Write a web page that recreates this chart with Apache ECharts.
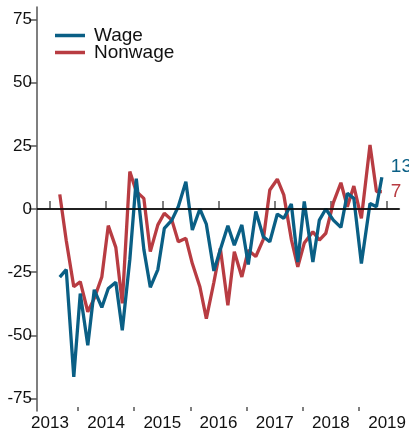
<!DOCTYPE html>
<html>
<head>
<meta charset="utf-8">
<script src="https://cdn.jsdelivr.net/npm/echarts@6/dist/echarts.min.js"></script>
<style>
html,body{margin:0;padding:0;background:#fff;}
#chart{width:409px;height:433px;}
</style>
</head>
<body>
<div id="chart"></div>
<script>
// Release dates (8 per year)
const dates = [
  '2013-03-06','2013-04-17','2013-06-05','2013-07-17','2013-09-04','2013-10-16','2013-12-04',
  '2014-01-15','2014-03-05','2014-04-16','2014-06-04','2014-07-16','2014-09-03','2014-10-15','2014-12-03',
  '2015-01-14','2015-03-04','2015-04-15','2015-06-03','2015-07-15','2015-09-02','2015-10-14','2015-12-02',
  '2016-01-13','2016-03-02','2016-04-13','2016-06-01','2016-07-13','2016-08-31','2016-10-19','2016-11-30',
  '2017-01-18','2017-03-01','2017-04-19','2017-05-31','2017-07-12','2017-09-06','2017-10-18','2017-11-29',
  '2018-01-17','2018-03-07','2018-04-18','2018-05-30','2018-07-18','2018-09-12','2018-10-24','2018-11-28'
];
const wage = [
  -27, -24, -66.5, -33.5, -54, -32, -39,
  -31.5, -29, -48, -20, 12, -16, -31, -24,
  -7.7, -4.4, 1, 10.8, -8.3, 0, -6, -24.5,
  -16, -6.6, -14.3, -6.3, -22, -1, -11, -13,
  -2, -3.7, 2, -21, 3, -21, -4.4, 0,
  -4.4, -7.3, 6.2, 4.2, -21.6, 2.2, 0.9, 12.6
];
const nonwage = [
  5.8, -12.5, -30.8, -28.8, -40.7, -35.4, -26.9,
  -6.6, -15.2, -37.4, 14.8, 6.9, 4.2, -16.9, -6.3,
  -1.7, -4.4, -13, -11.6, -21.6, -30.8, -43.4, -29,
  -15.6, -38.1, -16.9, -26.9, -16.3, -18.8, -12, 7.5,
  11.8, 5.6, -12, -22.9, -13.5, -9, -12.3, -9.6,
  2.5, 10.4, 0.9, 9.1, -3.7, 25.4, 6.9, 6.9
];
const yTicks = [-75, -50, -25, 0, 25, 50, 75];
const xYears = [2013, 2014, 2015, 2016, 2017, 2018, 2019];
const xHalfYears = [2013.5, 2014.5, 2015.5, 2016.5, 2017.5, 2018.5];
const seriesNames = ['Wage', 'Nonwage'];

const BLUE = '#0a5f85';
const RED = '#b83c42';
// date string -> decimal year
const decYear = d => {
  const p = d.split('-').map(Number);
  const start = Date.UTC(p[0], 0, 1), end = Date.UTC(p[0] + 1, 0, 1);
  return p[0] + (Date.UTC(p[0], p[1] - 1, p[2]) - start) / (end - start);
};
const xMin = 2012.77, xMax = 2019.22;

const chart = echarts.init(document.getElementById('chart'), null, {renderer: 'canvas'});
const font = 'Liberation Sans, Arial, Helvetica, sans-serif';
const axisCommon = {
  type: 'value', min: xMin, max: xMax, position: 'bottom',
  splitLine: {show: false}, minorTick: {show: false}
};
chart.setOption({
  animation: false,
  backgroundColor: '#fff',
  grid: {left: 37, right: 8, top: 7, bottom: 22, containLabel: false},
  legend: {
    orient: 'vertical', left: 50, top: 21, itemGap: -2,
    icon: 'rect', itemWidth: 30, itemHeight: 3.5,
    textStyle: {fontFamily: font, fontSize: 19, color: '#111', padding: [0,0,0,4]},
    data: seriesNames
  },
  xAxis: [
    Object.assign({}, axisCommon, {
      axisLine: {show: true, lineStyle: {color: '#555', width: 1.5}},
      axisTick: {show: true, inside: true, length: 8, lineStyle: {color: '#555', width: 1.5},
                 customValues: xYears},
      axisLabel: {show: true, margin: 4, fontFamily: font, fontSize: 17, color: '#111',
                  customValues: xYears, formatter: v => String(Math.round(v))}
    }),
    Object.assign({}, axisCommon, {
      axisLine: {show: false},
      axisTick: {show: true, inside: true, length: 4, lineStyle: {color: '#555', width: 1.5},
                 customValues: xHalfYears},
      axisLabel: {show: false}
    })
  ],
  yAxis: {
    type: 'value', min: -80, max: 80,
    splitLine: {show: false},
    axisLine: {show: true, lineStyle: {color: '#555', width: 1.5}},
    axisTick: {show: true, inside: false, length: 8, lineStyle: {color: '#555', width: 1.5},
               customValues: yTicks},
    axisLabel: {margin: 5, fontFamily: font, fontSize: 17, color: '#111', customValues: yTicks}
  },
  series: [
    {
      name: seriesNames[0], type: 'line', xAxisIndex: 0,
      data: dates.map((d, i) => [decYear(d), wage[i]]),
      symbol: 'none', lineStyle: {color: BLUE, width: 3.3}, itemStyle: {color: BLUE},
      endLabel: {show: true, formatter: p => String(Math.round(p.value[1])), color: BLUE,
                 fontFamily: font, fontSize: 19, distance: 9, offset: [0, -10]},
      markLine: {
        silent: true, symbol: 'none', label: {show: false},
        lineStyle: {color: '#000', width: 1.5, type: 'solid'},
        data: [{yAxis: 0}]
      },
      z: 3
    },
    {
      name: seriesNames[1], type: 'line', xAxisIndex: 0,
      data: dates.map((d, i) => [decYear(d), nonwage[i]]),
      symbol: 'none', lineStyle: {color: RED, width: 3.3}, itemStyle: {color: RED},
      endLabel: {show: true, formatter: p => String(Math.round(p.value[1])), color: RED,
                 fontFamily: font, fontSize: 19, distance: 9, offset: [0, 0]},
      z: 2
    }
  ]
});
</script>
</body>
</html>
